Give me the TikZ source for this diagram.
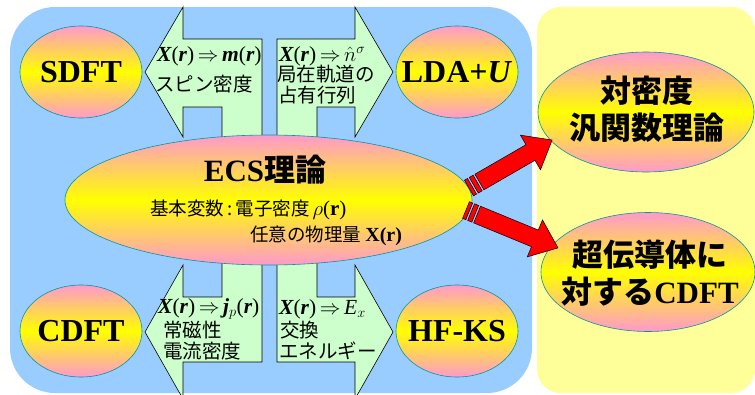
\documentclass[tikz,border=0pt]{standalone}
\usepackage{fontspec}
\setmainfont{Liberation Serif}
\newfontfamily\jp{Noto Sans CJK JP}
\usetikzlibrary{shapes.geometric}
\definecolor{bgblue}{RGB}{153,204,255}
\definecolor{bgyel}{RGB}{255,255,153}
\definecolor{ppink}{RGB}{255,153,204}
\definecolor{eyel}{RGB}{255,255,0}
\definecolor{tealline}{RGB}{0,153,153}
\definecolor{lgreen}{RGB}{204,255,204}
\newcommand{\bitx}[1]{{\bfseries\itshape #1}}
\newcommand{\stripedarrow}[1]{%
  \filldraw[rarr] (0,-9) rectangle (3.5,9);
  \filldraw[rarr] (5.5,-9) rectangle (10,9);
  \filldraw[rarr] (12,-9) -- (#1-25,-9) -- (#1-25,-20) -- (#1,0) -- (#1-25,20) -- (#1-25,9) -- (12,9) -- cycle;}
\begin{document}
\begin{tikzpicture}[x=1pt,y=-1pt,
  oval/.style={ellipse, draw=tealline, line width=0.6pt, top color=ppink, bottom color=ppink, middle color=eyel, inner sep=0pt},
  garr/.style={fill=lgreen, draw=black, line width=0.6pt, line join=miter},
  rarr/.style={fill=red, draw=black, line width=0.5pt, line join=miter},
  ttl/.style={font=\fontsize{32}{36}\selectfont\bfseries, inner sep=0pt},
  bigjp/.style={font=\jp\bfseries\fontsize{31}{37}\selectfont, align=center, inner sep=0pt},
  mtx/.style={font=\fontsize{21.5}{22}\selectfont, anchor=west, inner sep=0pt},
  jtx/.style={font=\jp\fontsize{19.5}{20}\selectfont, anchor=west, inner sep=0pt},
  etx/.style={font=\jp\fontsize{18.5}{20}\selectfont, anchor=west, inner sep=0pt}]
\useasboundingbox (0,0) rectangle (755,394);
\fill[white] (0,0) rectangle (755,394);
\fill[bgblue, rounded corners=45pt] (10,7) rectangle (532,393);
\fill[bgyel, rounded corners=24pt] (537,7) rectangle (755,393);
% green bent arrows
\draw[garr] (262,150) -- (262,39) -- (183,39) -- (183,7) -- (145,72) -- (183,137) -- (183,107) -- (222,107) -- (222,150) -- cycle;
\draw[garr] (277,150) -- (277,39) -- (355,39) -- (355,7) -- (393,72) -- (355,137) -- (355,107) -- (317,107) -- (317,150) -- cycle;
\draw[garr] (262,250) -- (262,362) -- (183,362) -- (183,399) -- (145,332) -- (183,265) -- (183,297) -- (222,297) -- (222,250) -- cycle;
\draw[garr] (277,250) -- (277,362) -- (355,362) -- (355,399) -- (393,332) -- (355,265) -- (355,297) -- (317,297) -- (317,250) -- cycle;
% ellipses
\node[oval, minimum width=122pt, minimum height=92pt] (sdft) at (81,72) {};
\node[oval, minimum width=122pt, minimum height=92pt] (cdft) at (81,331) {};
\node[oval, minimum width=122pt, minimum height=92pt] (ldau) at (457,72) {};
\node[oval, minimum width=122pt, minimum height=92pt] (hfks) at (457,331) {};
\node[oval, minimum width=407pt, minimum height=130pt] (ecs) at (268.5,200) {};
\node[oval, minimum width=216pt, minimum height=120pt] (dft) at (646,112) {};
\node[oval, minimum width=214pt, minimum height=119pt] (scdft) at (648,272) {};
% titles
\node[ttl] (sdftt) at (sdft) {SDFT};
\node[ttl] (cdftt) at (cdft) {CDFT};
\node[ttl] (ldaut) at (ldau) {LDA+\textit{U}};
\node[ttl] (hfkst) at (hfks) {HF-KS};
\node[font=\fontsize{31}{31}\selectfont\bfseries, inner sep=0pt] (ecst) at (265,170) {ECS{\jp 理論}};
\node[etx] (ecs1) at (150,210) {基本変数\,:\,電子密度\,{\rmfamily\fontsize{21}{20}\selectfont$\rho$(\textbf{r})}};
\node[etx] (ecs2) at (250,236) {任意の物理量 {\rmfamily\bfseries\fontsize{20}{20}\selectfont X(r)}};
\node[bigjp] (dftt) at (647,109) {対密度\\汎関数理論};
\node[bigjp] (scdftt) at (650,273) {超伝導体に\\対する{\rmfamily\bfseries CDFT}};
% arrow labels
\node[mtx] (t1) at (157,56) {\bitx{X}(\bitx{r})\,$\Rightarrow$\,\bitx{m}(\bitx{r})};
\node[jtx] (t2) at (155,84) {スピン密度};
\node[mtx] (t3) at (279,56) {\bitx{X}(\bitx{r})\,$\Rightarrow$\,$\hat{n}^{\sigma}$};
\node[jtx] (t4) at (277,74) {局在軌道の};
\node[jtx] (t5) at (278,95) {占有行列};
\node[mtx] (t6) at (158,309) {\bitx{X}(\bitx{r})\,$\Rightarrow$\,\bitx{j}$_{p}$(\bitx{r})};
\node[jtx] (t7) at (163,330) {常磁性};
\node[jtx] (t8) at (163,351) {電流密度};
\node[mtx] (t9) at (279,309) {\bitx{X}(\bitx{r})\,$\Rightarrow$\,\textit{E}$_{x}$};
\node[jtx] (t10) at (280,330) {交換};
\node[jtx] (t11) at (279,351) {エネルギー};
% red striped arrows
\coordinate (a1s) at (469,188);
\coordinate (a2s) at (466,210);
\begin{scope}[shift={(a1s)}, rotate=30]
  \stripedarrow{96}
\end{scope}
\begin{scope}[shift={(a2s)}, rotate=-22.4]
  \stripedarrow{99.5}
\end{scope}
\end{tikzpicture}
\end{document}
